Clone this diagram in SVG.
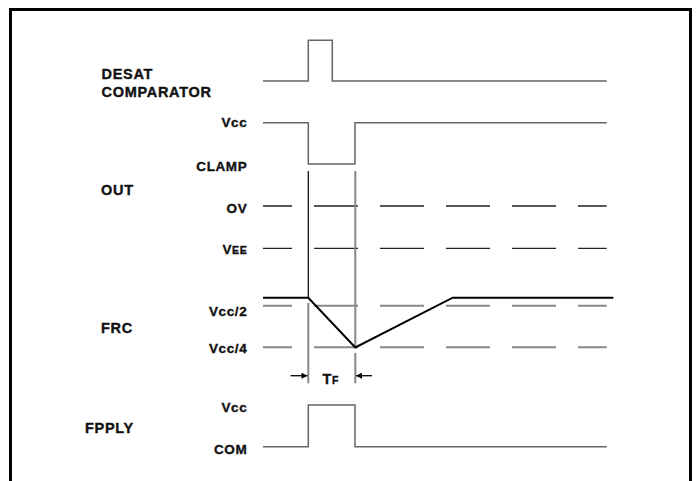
<svg xmlns="http://www.w3.org/2000/svg" width="697" height="481" viewBox="0 0 697 481">
<defs>
<style>
.lbl{font-family:"Liberation Sans",Arial,sans-serif;font-weight:bold;font-size:14.5px;fill:#111;stroke:#111;stroke-width:0.35;letter-spacing:0.7px}
.rl{font-family:"Liberation Sans",Arial,sans-serif;font-weight:bold;font-size:13.5px;fill:#111;stroke:#111;stroke-width:0.35;text-anchor:end;letter-spacing:0.6px}
.sig{fill:none;stroke:#666;stroke-width:1.5}
.frc{fill:none;stroke:#000;stroke-width:2}
.dk{fill:none;stroke:#222;stroke-width:1.3;stroke-dasharray:44 22;stroke-dashoffset:15}
.gr{fill:none;stroke:#888;stroke-width:2;stroke-dasharray:44 22;stroke-dashoffset:15}
.vk{stroke:#111;stroke-width:1.3}
.vg{stroke:#888;stroke-width:2}
</style>
<marker id="ah" viewBox="0 0 10 10" refX="10" refY="5" markerWidth="8" markerHeight="6" markerUnits="userSpaceOnUse" orient="auto">
<path d="M0,0 L10,5 L0,10 Z" fill="#000"/>
</marker>
</defs>
<rect width="697" height="481" fill="#fff"/>
<path d="M10.5,481 V9.5 H690.5 V481" fill="none" stroke="#000" stroke-width="3"/>

<g id="labels">
<text class="lbl" x="101.5" y="79.3">DESAT</text>
<text class="lbl" x="101.5" y="96.7">COMPARATOR</text>
<text class="lbl" x="101" y="195">OUT</text>
<text class="lbl" x="101" y="333.3">FRC</text>
<text class="lbl" x="85" y="433.3">FPPLY</text>
<text class="rl" x="247.3" y="127.3">Vcc</text>
<text class="rl" x="247.3" y="171">CLAMP</text>
<text class="rl" x="247.3" y="213.3">OV</text>
<text class="rl" x="247.3" y="254.3">V<tspan font-size="10.5">EE</tspan></text>
<text class="rl" x="247.3" y="315.7" letter-spacing="2.4">Vcc/2</text>
<text class="rl" x="247.3" y="353.3" letter-spacing="2.4">Vcc/4</text>
<text class="rl" x="247.3" y="412.3">Vcc</text>
<text class="rl" x="247.3" y="454">COM</text>
<text class="lbl" x="322.5" y="384">T<tspan font-size="10.5" letter-spacing="0">F</tspan></text>
</g>

<g id="connectors">
<path class="sig" d="M263,81 H308.3 V40.3 H332.3 V81 H606.7"/>
<path class="sig" d="M263,122.7 H308.3 V164 H355 V122.7 H606.7"/>
<path class="dk" d="M263,206 H606.7"/>
<path class="dk" d="M263,248.3 H606.7"/>
<path class="gr" d="M263,305.7 H606.7"/>
<path class="gr" d="M263,347.3 H606.7"/>
<line class="vk" x1="308.3" y1="171" x2="308.3" y2="297.7"/>
<line class="vg" x1="308.3" y1="303" x2="308.3" y2="383.3"/>
<line class="vg" x1="355.3" y1="171" x2="355.3" y2="347"/>
<line class="vg" x1="355.3" y1="353" x2="355.3" y2="383.3"/>
<polyline class="frc" points="263,297.7 308.3,297.7 355.3,347.5 452.7,297.7 613.3,297.7"/>
<line x1="290.5" y1="375.7" x2="307.5" y2="375.7" stroke="#000" stroke-width="1.3" marker-end="url(#ah)"/>
<line x1="372" y1="375.7" x2="356" y2="375.7" stroke="#000" stroke-width="1.3" marker-end="url(#ah)"/>
<path class="sig" d="M263,446.7 H308.3 V405 H355 V446.7 H606.7"/>
</g>
</svg>
